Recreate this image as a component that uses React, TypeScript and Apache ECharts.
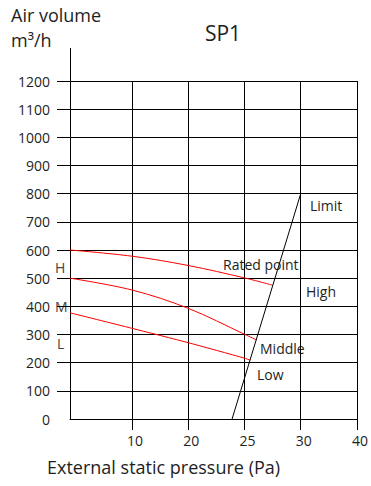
import React, { useEffect, useRef } from "react";
import * as echarts from "echarts";

// Nonlinear pressure axis of the original: gridlines at 10, 20, 25, 30, 40 Pa
const X_TICK_PA = [0, 10, 20, 25, 30, 40];
const X_TICK_POS = [0, 1.1, 2.1, 3.1, 4.1, 5.1];
const X_TICK_LABELS = ["10", "20", "25", "30", "40"];
const Y_TICKS = [100, 200, 300, 400, 500, 600, 700, 800, 900, 1000, 1100, 1200];

// Fan curves (pressure Pa, air volume m³/h)
const highPa = [0, 10, 20, 25, 27.5];
const highVol = [600, 578, 545, 501, 475];
const middlePa = [0, 10, 20, 25, 26.1];
const middleVol = [500, 458, 393, 301, 280];
const lowPa = [0, 10, 20, 25, 25.5];
const lowVol = [377, 322, 271, 216, 209];
const limitPa = [23.9, 30];
const limitVol = [0, 800];

function paToPos(pa: number): number {
  for (let i = 1; i < X_TICK_PA.length; i++) {
    if (pa <= X_TICK_PA[i] || i === X_TICK_PA.length - 1) {
      const a = X_TICK_PA[i - 1], b = X_TICK_PA[i];
      const pa0 = X_TICK_POS[i - 1], pb = X_TICK_POS[i];
      return pa0 + ((pa - a) / (b - a)) * (pb - pa0);
    }
  }
  return 0;
}

function pts(xs: number[], ys: number[]) {
  return xs.map((x, i) => [paToPos(x), ys[i]]);
}

const FONT = "'Open Sans', 'Noto Sans', sans-serif";
const TXT = "#1e1e1e";

export default function App() {
  const ref = useRef<HTMLDivElement>(null);
  useEffect(() => {
    if (!ref.current) return;
    const chart = echarts.init(ref.current, undefined, { renderer: "svg" });
    const txt = (text: string, x: number, y: number, size: number, fill = TXT, align = "left") => ({
      type: "text",
      x,
      y,
      silent: true,
      style: { text, fontSize: size, fontFamily: FONT, fill, align, verticalAlign: "middle" },
    });
    chart.setOption({
      animation: false,
      backgroundColor: "#ffffff",
      grid: { left: 70, right: 14, top: 81, bottom: 67, containLabel: false, outerBoundsMode: "none" },
      xAxis: {
        type: "value",
        min: 0,
        max: 5.1,
        axisLine: { show: true, onZero: false, lineStyle: { color: "#000", width: 1 } },
        axisTick: { show: true, inside: false, length: 11, customValues: X_TICK_POS.slice(1), lineStyle: { color: "#000" } },
        axisLabel: {
          customValues: X_TICK_POS.slice(1),
          fontSize: 14,
          fontFamily: FONT,
          color: TXT,
          margin: 14,
          padding: [0, 0, 0, 6],
          formatter: (v: number) => {
            const i = X_TICK_POS.findIndex((p) => Math.abs(p - v) < 1e-6);
            return i > 0 ? X_TICK_LABELS[i - 1] : "";
          },
        },
        splitLine: { show: true, lineStyle: { color: "#000", width: 1 } },
      },
      yAxis: {
        type: "value",
        min: 0,
        max: 1200,
        interval: 100,
        axisLine: { show: true, lineStyle: { color: "#000", width: 1 } },
        axisTick: { show: true, inside: false, length: 13, customValues: Y_TICKS, lineStyle: { color: "#000" } },
        axisLabel: { fontSize: 14, fontFamily: FONT, color: TXT, margin: 20, formatter: (v: number) => String(v) },
        splitLine: { show: true, lineStyle: { color: "#000", width: 1 } },
      },
      series: [
        { type: "line", name: "High", data: pts(highPa, highVol), smooth: 0.35, showSymbol: false, lineStyle: { color: "#ff0000", width: 1 } },
        { type: "line", name: "Middle", data: pts(middlePa, middleVol), smooth: 0.35, showSymbol: false, lineStyle: { color: "#ff0000", width: 1 } },
        { type: "line", name: "Low", data: pts(lowPa, lowVol), smooth: 0.2, showSymbol: false, lineStyle: { color: "#ff0000", width: 1 } },
        { type: "line", name: "Limit", data: pts(limitPa, limitVol), showSymbol: false, lineStyle: { color: "#000", width: 1 } },
      ],
      graphic: [
        { type: "line", silent: true, shape: { x1: 70.5, y1: 48, x2: 70.5, y2: 81 }, style: { stroke: "#000", lineWidth: 1 } },
        txt("Air volume", 11, 15, 18),
        txt("m³/h", 11, 40, 18),
        txt("SP1", 223, 33, 21, TXT, "center"),
        txt("External static pressure (Pa)", 47, 467, 18),
        txt("Limit", 310, 205, 14),
        txt("Rated point", 223, 264, 14),
        txt("High", 306, 291, 14),
        txt("Middle", 260, 348, 14),
        txt("Low", 257, 374, 14),
        txt("H", 55, 267, 14, "#444444"),
        txt("M", 55, 306, 14, "#444444"),
        txt("L", 57, 343, 14, "#444444"),
      ],
    });
    return () => chart.dispose();
  }, []);
  return <div ref={ref} style={{ width: 371, height: 486, position: "absolute", left: 0, top: 0 }} />;
}
